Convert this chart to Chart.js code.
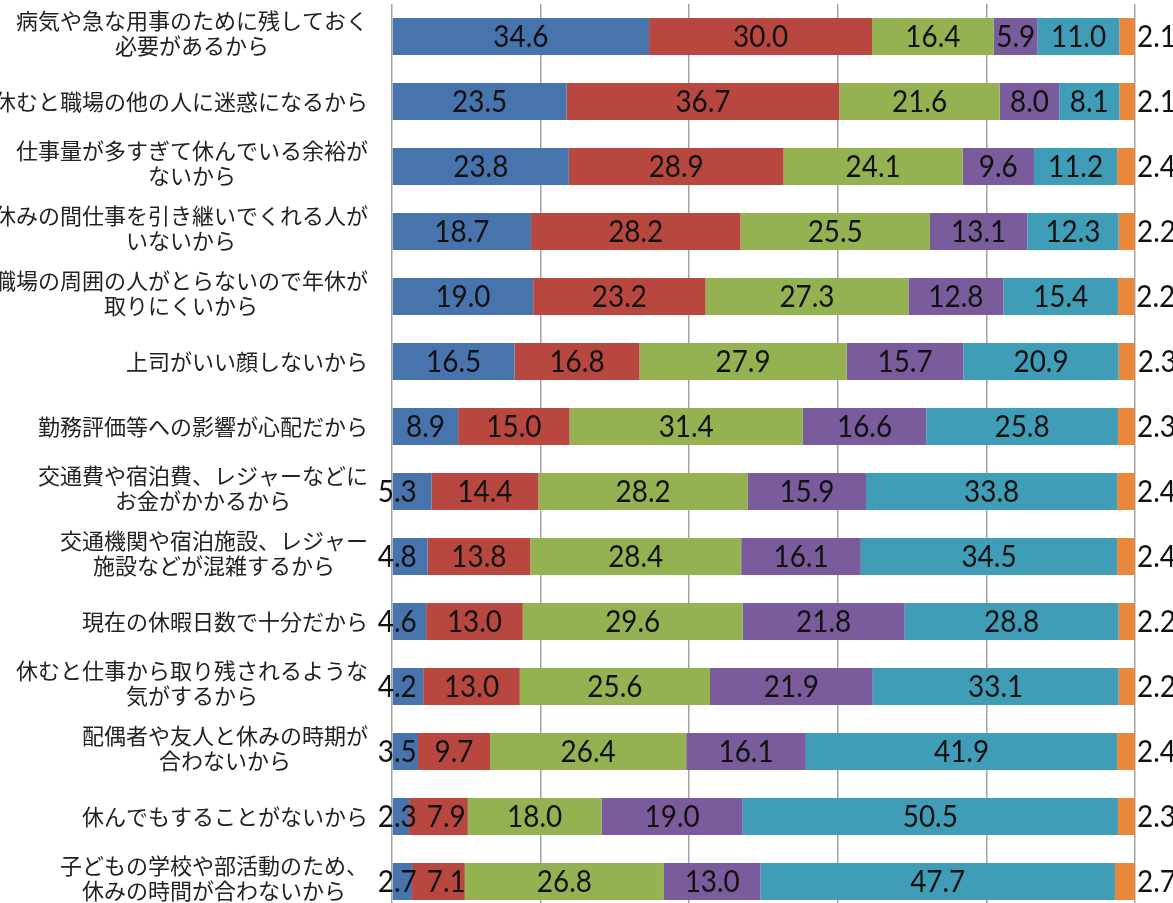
<!DOCTYPE html>
<html lang="ja">
<head>
<meta charset="utf-8">
<title>年休を取り残す理由</title>
<script src="https://cdn.jsdelivr.net/npm/chart.js@4.4.1/dist/chart.umd.min.js"></script>
<style>
  html, body { margin: 0; padding: 0; background: #fff; overflow: hidden; }
  #wrap { position: relative; width: 1173px; height: 914px; }
</style>
</head>
<body>
<div id="wrap"><canvas id="chart"></canvas></div>
<script>
// categories (top to bottom)
const categories = [
  ['病気や急な用事のために残しておく', '必要があるから'],
  ['休むと職場の他の人に迷惑になるから'],
  ['仕事量が多すぎて休んでいる余裕が', 'ないから'],
  ['休みの間仕事を引き継いでくれる人が', 'いないから'],
  ['職場の周囲の人がとらないので年休が', '取りにくいから'],
  ['上司がいい顔しないから'],
  ['勤務評価等への影響が心配だから'],
  ['交通費や宿泊費、レジャーなどに', 'お金がかかるから'],
  ['交通機関や宿泊施設、レジャー', '施設などが混雑するから'],
  ['現在の休暇日数で十分だから'],
  ['休むと仕事から取り残されるような', '気がするから'],
  ['配偶者や友人と休みの時期が', '合わないから'],
  ['休んでもすることがないから'],
  ['子どもの学校や部活動のため、', '休みの時間が合わないから']
];

// series values (%)
const series1 = [34.6, 23.5, 23.8, 18.7, 19.0, 16.5, 8.9, 5.3, 4.8, 4.6, 4.2, 3.5, 2.3, 2.7];
const series2 = [30.0, 36.7, 28.9, 28.2, 23.2, 16.8, 15.0, 14.4, 13.8, 13.0, 13.0, 9.7, 7.9, 7.1];
const series3 = [16.4, 21.6, 24.1, 25.5, 27.3, 27.9, 31.4, 28.2, 28.4, 29.6, 25.6, 26.4, 18.0, 26.8];
const series4 = [5.9, 8.0, 9.6, 13.1, 12.8, 15.7, 16.6, 15.9, 16.1, 21.8, 21.9, 16.1, 19.0, 13.0];
const series5 = [11.0, 8.1, 11.2, 12.3, 15.4, 20.9, 25.8, 33.8, 34.5, 28.8, 33.1, 41.9, 50.5, 47.7];
const series6 = [2.1, 2.1, 2.4, 2.2, 2.2, 2.3, 2.3, 2.4, 2.4, 2.2, 2.2, 2.4, 2.3, 2.7];

// x axis grid positions
const xTicks = [0, 20, 40, 60, 80, 100];

const colors = ['#4774AD', '#B8473F', '#94B251', '#7A5C9C', '#3F9DB8', '#E9883A'];

// value labels inside bars (last series outside, to the right)
const valueLabels = {
  id: 'valueLabels',
  afterDatasetsDraw(chart) {
    const ctx = chart.ctx;
    const fs = 30, sx = 0.93;
    ctx.save();
    ctx.font = fs + 'px Lato, "Open Sans", sans-serif';
    ctx.fillStyle = '#111';
    ctx.textBaseline = 'alphabetic';
    const n = chart.data.datasets.length;
    const firstRight = [];
    chart.data.datasets.forEach((ds, di) => {
      const meta = chart.getDatasetMeta(di);
      meta.data.forEach((bar, i) => {
        const txt = ds.data[i].toFixed(1);
        const tw = ctx.measureText(txt).width * sx;
        const segW = bar.x - bar.base;
        const y = bar.y + fs * 0.36;
        let x, align;
        if (di === n - 1) {
          x = bar.x + 2; align = 'left';
        } else if (di === 0 && tw > segW - 6) {
          x = bar.base - 15; align = 'left';
          firstRight[i] = x + tw;
        } else {
          x = (bar.x + bar.base) / 2; align = 'center';
          if (di === 0) firstRight[i] = x + tw / 2;
          if (di === 1 && firstRight[i] !== undefined && x - tw / 2 < firstRight[i] + 10) {
            x = firstRight[i] + 10 + tw / 2;
          }
        }
        ctx.save();
        ctx.translate(x, y);
        ctx.scale(sx, 1);
        ctx.textAlign = align;
        ctx.fillText(txt, 0, 0);
        ctx.restore();
      });
    });
    ctx.restore();
  }
};

// category labels: block right-aligned, lines centered within block
const categoryLabels = {
  id: 'categoryLabels',
  afterDraw(chart) {
    const ctx = chart.ctx;
    const yScale = chart.scales.y;
    const rightEdge = 368;
    const lh = 25;
    ctx.save();
    ctx.font = '22px "Noto Sans CJK JP", sans-serif';
    ctx.fillStyle = '#222';
    ctx.textAlign = 'center';
    ctx.textBaseline = 'middle';
    categories.forEach((lines, i) => {
      const cy = yScale.getPixelForValue(i) - (lines.length > 1 ? 3 : 0);
      const w = Math.max(...lines.map(l => ctx.measureText(l).width));
      const cx = rightEdge - w / 2;
      lines.forEach((l, k) => {
        ctx.fillText(l, cx, cy + (k - (lines.length - 1) / 2) * lh);
      });
    });
    ctx.restore();
  }
};

const allSeries = [series1, series2, series3, series4, series5, series6];

new Chart(document.getElementById('chart'), {
  type: 'bar',
  data: {
    labels: categories,
    datasets: allSeries.map((d, i) => ({
      label: 'S' + (i + 1),
      data: d,
      backgroundColor: colors[i],
      borderWidth: 0,
      barPercentage: 0.57,
      categoryPercentage: 1.0
    }))
  },
  options: {
    indexAxis: 'y',
    responsive: true,
    maintainAspectRatio: false,
    animation: false,
    layout: { padding: { left: 392, right: 38, top: 4, bottom: 0 } },
    scales: {
      x: {
        stacked: true,
        min: 0,
        max: 100,
        afterBuildTicks(scale) { scale.ticks = xTicks.map(v => ({ value: v })); },
        ticks: { display: false },
        grid: { color: '#A3A3A3', lineWidth: 1.5, drawTicks: false },
        border: { display: false }
      },
      y: {
        stacked: true,
        display: false
      }
    },
    plugins: {
      legend: { display: false },
      tooltip: { enabled: false }
    }
  },
  plugins: [valueLabels, categoryLabels]
});
</script>
</body>
</html>
